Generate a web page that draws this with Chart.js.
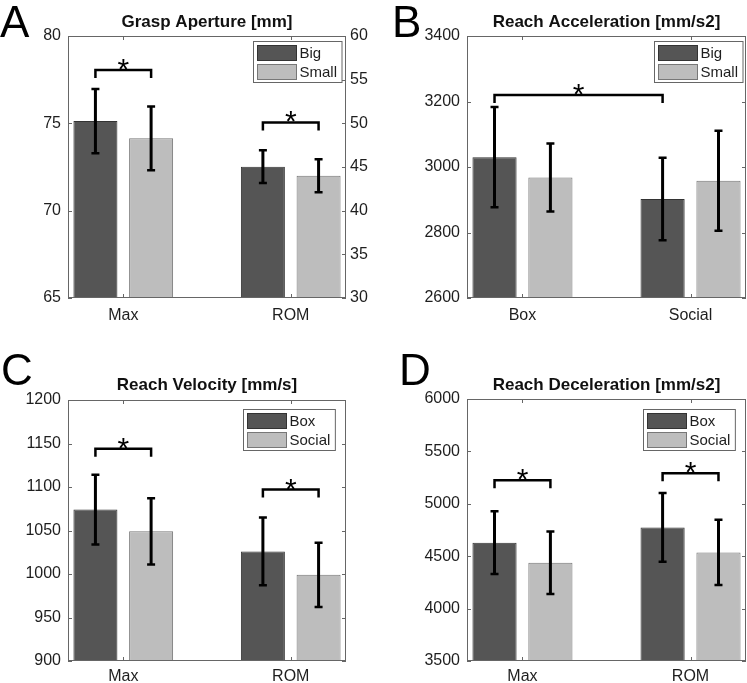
<!DOCTYPE html>
<html>
<head>
<meta charset="utf-8">
<script src="https://cdn.jsdelivr.net/npm/chart.js@4.4.1/dist/chart.umd.min.js"></script>
<style>
body{margin:0;background:#fff;}
#wrap{position:relative;width:747px;height:683px;overflow:hidden;}
canvas{position:absolute;}
</style>
</head>
<body>
<div id="wrap">
<canvas id="chartA" width="373" height="330" style="left:0;top:0"></canvas>
<canvas id="chartB" width="374" height="330" style="left:373px;top:0"></canvas>
<canvas id="chartC" width="373" height="353" style="left:0;top:330px"></canvas>
<canvas id="chartD" width="374" height="353" style="left:373px;top:330px"></canvas>
</div>
<script>
// A - grasp aperture, Max read on left axis, ROM on right axis
const graspCats = ["Max", "ROM"];
const graspBig = [75.13, 45.04];
const graspSmall = [74.14, 44.00];
const graspBigErr = [1.84, 1.87];
const graspSmallErr = [1.82, 1.88];

// B - reach acceleration
const accCats = ["Box", "Social"];
const accBig = [3030, 2902];
const accSmall = [2968, 2958];
const accBigErr = [153, 126];
const accSmallErr = [104, 153];

// C - reach velocity
const velCats = ["Max", "ROM"];
const velBox = [1074, 1026];
const velSocial = [1049, 999];
const velBoxErr = [40, 39];
const velSocialErr = [38, 37];

// D - reach deceleration
const decCats = ["Max", "ROM"];
const decBox = [4629, 4775];
const decSocial = [4437, 4536];
const decBoxErr = [300, 327];
const decSocialErr = [298, 311];

// axis ranges [min, max, step]
const graspLeftTicks = [65, 80, 5];
const graspRightTicks = [30, 60, 5];
const accTicks = [2600, 3400, 200];
const velTicks = [900, 1200, 50];
const decTicks = [3500, 6000, 500];

// significance brackets: [category, series] -> [category, series] at value y
const graspStars = [
  {from: [0, 0], to: [0, 1], y: 78.05, axis: "y"},
  {from: [1, 0], to: [1, 1], y: 50.1, axis: "y2"}
];
const accStars = [{from: [0, 0], to: [1, 0], y: 3220, axis: "y"}];
const velStars = [
  {from: [0, 0], to: [0, 1], y: 1144, axis: "y"},
  {from: [1, 0], to: [1, 1], y: 1097, axis: "y"}
];
const decStars = [
  {from: [0, 0], to: [0, 1], y: 5225, axis: "y"},
  {from: [1, 0], to: [1, 1], y: 5292, axis: "y"}
];

const FONT = '"Liberation Sans", Arial, Helvetica, sans-serif';
const FILLS = ["#555555", "#bdbdbd"];
const EDGES = ["#333333", "#777777"];
const FRAME = "#666666";

Chart.defaults.font.family = FONT;
Chart.defaults.color = "#1e1e1e";

const decoPlugin = {
  id: "deco",
  afterDatasetsDraw(chart, args, opts) {
    const ctx = chart.ctx;
    ctx.save();
    // error bars
    ctx.strokeStyle = "#000";
    chart.data.datasets.forEach((ds, i) => {
      const meta = chart.getDatasetMeta(i);
      const ys = chart.scales[ds.yAxisID];
      meta.data.forEach((el, j) => {
        const v = ds.data[j];
        if (v === null) return;
        const e = ds.errors[j];
        const top = ys.getPixelForValue(v + e);
        const bot = ys.getPixelForValue(v - e);
        ctx.lineWidth = 3;
        ctx.beginPath();
        ctx.moveTo(el.x, top);
        ctx.lineTo(el.x, bot);
        ctx.stroke();
        ctx.lineWidth = 2.5;
        ctx.beginPath();
        ctx.moveTo(el.x - 4, top);
        ctx.lineTo(el.x + 4, top);
        ctx.moveTo(el.x - 4, bot);
        ctx.lineTo(el.x + 4, bot);
        ctx.stroke();
      });
    });
    // brackets with stars
    const barX = (cat, series) => {
      let x = null;
      chart.data.datasets.forEach((ds, i) => {
        if (ds.series === series && ds.data[cat] !== null) {
          x = chart.getDatasetMeta(i).data[cat].x;
        }
      });
      return x;
    };
    (opts.stars || []).forEach(s => {
      const x1 = barX(s.from[0], s.from[1]);
      const x2 = barX(s.to[0], s.to[1]);
      const y = chart.scales[s.axis].getPixelForValue(s.y);
      ctx.lineWidth = 2.5;
      ctx.strokeStyle = "#000";
      ctx.beginPath();
      ctx.moveTo(x1, y + 8);
      ctx.lineTo(x1, y);
      ctx.lineTo(x2, y);
      ctx.lineTo(x2, y + 8);
      ctx.stroke();
      ctx.fillStyle = "#000";
      ctx.font = "30px " + FONT;
      ctx.textAlign = "center";
      ctx.textBaseline = "alphabetic";
      ctx.fillText("*", (x1 + x2) / 2, y + 9);
    });
    ctx.restore();
  },
  afterDraw(chart, args, opts) {
    const ctx = chart.ctx;
    const a = chart.chartArea;
    ctx.save();
    // box around the axes
    ctx.strokeStyle = FRAME;
    ctx.lineWidth = 1;
    ctx.strokeRect(Math.round(a.left) + 0.5, Math.round(a.top) + 0.5,
      Math.round(a.right - a.left) - 1, Math.round(a.bottom - a.top) - 1);
    // inward tick marks
    const tl = 4;
    ctx.beginPath();
    const left = chart.scales.y;
    const right = chart.scales.y2 || chart.scales.y;
    left.ticks.forEach(t => {
      const p = Math.round(left.getPixelForValue(t.value)) + 0.5;
      ctx.moveTo(a.left, p); ctx.lineTo(a.left + tl, p);
    });
    right.ticks.forEach(t => {
      const p = Math.round(right.getPixelForValue(t.value)) + 0.5;
      ctx.moveTo(a.right, p); ctx.lineTo(a.right - tl, p);
    });
    chart.scales.x.ticks.forEach(t => {
      const p = Math.round(chart.scales.x.getPixelForValue(t.value)) + 0.5;
      ctx.moveTo(p, a.bottom); ctx.lineTo(p, a.bottom - tl);
      ctx.moveTo(p, a.top); ctx.lineTo(p, a.top + tl);
    });
    ctx.stroke();

    // legend inside the axes
    const names = [];
    chart.data.datasets.forEach(ds => { names[ds.series] = ds.label; });
    ctx.font = "15px " + FONT;
    const tw = Math.max(...names.map(n => ctx.measureText(n).width));
    const w = 4 + 39 + 4 + tw + 4;
    const h = 41;
    const x0 = Math.round(a.right - opts.legend[0] - w) + 0.5;
    const y0 = Math.round(a.top + opts.legend[1]) + 0.5;
    ctx.fillStyle = "#fff";
    ctx.fillRect(x0, y0, w, h);
    ctx.strokeStyle = FRAME;
    ctx.strokeRect(x0, y0, w, h);
    names.forEach((n, k) => {
      const sy = y0 + 4 + k * 19;
      ctx.fillStyle = FILLS[k];
      ctx.fillRect(x0 + 4, sy, 39, 15);
      ctx.strokeStyle = EDGES[k];
      ctx.strokeRect(x0 + 4, sy, 39, 15);
      ctx.fillStyle = "#1e1e1e";
      ctx.textAlign = "left";
      ctx.textBaseline = "middle";
      ctx.fillText(n, x0 + 4 + 39 + 3, sy + 8);
    });

    // panel letter
    ctx.fillStyle = "#000";
    ctx.font = "44px " + FONT;
    ctx.textAlign = "left";
    ctx.textBaseline = "alphabetic";
    ctx.fillText(opts.letter[0], opts.letter[1], opts.letter[2]);
    ctx.restore();
  }
};

function makePanel(id, p) {
  const datasets = [];
  p.series.forEach((s, k) => {
    const axes = [...new Set(p.axisOf)];
    axes.forEach(ax => {
      datasets.push({
        label: s.name,
        series: k,
        stack: "s" + k,
        yAxisID: ax,
        base: p.scales[ax][0],
        data: s.values.map((v, i) => p.axisOf[i] === ax ? v : null),
        errors: s.errors.map((v, i) => p.axisOf[i] === ax ? v : null),
        backgroundColor: FILLS[k],
        borderColor: EDGES[k],
        borderWidth: 1,
        categoryPercentage: 0.665,
        barPercentage: 0.79
      });
    });
  });

  const tickFont = {family: FONT, size: 16};
  const scales = {
    x: {
      type: "linear",
      min: 0.67,
      max: 2.33,
      offset: false,
      afterBuildTicks: s => { s.ticks = p.cats.map((c, i) => ({value: i + 1})); },
      ticks: {callback: v => p.cats[v - 1], font: tickFont, padding: p.xPad, maxRotation: 0, autoSkip: false},
      grid: {display: false, drawTicks: false},
      border: {display: false},
      afterFit: s => { s.height = p.xHeight; }
    }
  };
  Object.keys(p.scales).forEach(ax => {
    const r = p.scales[ax];
    scales[ax] = {
      type: "linear",
      position: ax === "y" ? "left" : "right",
      min: r[0],
      max: r[1],
      ticks: {stepSize: r[2], font: tickFont, padding: ax === "y" ? 7 : 4, callback: v => String(v)},
      grid: {display: false, drawTicks: false},
      border: {display: false},
      afterFit: s => { s.width = ax === "y" ? p.leftW : p.rightW; }
    };
  });

  new Chart(document.getElementById(id), {
    type: "bar",
    data: {labels: p.cats.map((c, i) => i + 1), datasets},
    options: {
      responsive: false,
      animation: false,
      layout: {padding: {left: 0, right: p.padRight, top: 0, bottom: 0}},
      scales,
      plugins: {
        legend: {display: false},
        tooltip: {enabled: false},
        title: {
          display: true,
          text: p.title,
          fullSize: false,
          color: "#111",
          font: {family: FONT, size: 17, weight: "bold", lineHeight: 1.2},
          padding: {top: p.titleTop, bottom: p.titleBottom}
        },
        deco: {letter: p.letter, legend: p.legend, stars: p.stars}
      }
    },
    plugins: [decoPlugin]
  });
}

makePanel("chartA", {
  title: "Grasp Aperture [mm]",
  cats: graspCats,
  series: [
    {name: "Big", values: graspBig, errors: graspBigErr},
    {name: "Small", values: graspSmall, errors: graspSmallErr}
  ],
  axisOf: ["y", "y2"],
  scales: {y: graspLeftTicks, y2: graspRightTicks},
  stars: graspStars,
  leftW: 68, rightW: 27, padRight: 0,
  xHeight: 32, xPad: 8,
  titleTop: 12, titleBottom: 3.6,
  legend: [4, 5],
  letter: ["A", 0, 37]
});

makePanel("chartB", {
  title: "Reach Acceleration [mm/s2]",
  cats: accCats,
  series: [
    {name: "Big", values: accBig, errors: accBigErr},
    {name: "Small", values: accSmall, errors: accSmallErr}
  ],
  axisOf: ["y", "y"],
  scales: {y: accTicks},
  stars: accStars,
  leftW: 94, rightW: 0, padRight: 1,
  xHeight: 32, xPad: 8,
  titleTop: 12, titleBottom: 3.6,
  legend: [3, 5],
  letter: ["B", 19, 37]
});

makePanel("chartC", {
  title: "Reach Velocity [mm/s]",
  cats: velCats,
  series: [
    {name: "Box", values: velBox, errors: velBoxErr},
    {name: "Social", values: velSocial, errors: velSocialErr}
  ],
  axisOf: ["y", "y"],
  scales: {y: velTicks},
  stars: velStars,
  leftW: 68, rightW: 0, padRight: 27,
  xHeight: 22, xPad: 6,
  titleTop: 44.8, titleBottom: 4.8,
  legend: [11, 9],
  letter: ["C", 1, 55]
});

makePanel("chartD", {
  title: "Reach Deceleration [mm/s2]",
  cats: decCats,
  series: [
    {name: "Box", values: decBox, errors: decBoxErr},
    {name: "Social", values: decSocial, errors: decSocialErr}
  ],
  axisOf: ["y", "y"],
  scales: {y: decTicks},
  stars: decStars,
  leftW: 94, rightW: 0, padRight: 1,
  xHeight: 22, xPad: 6,
  titleTop: 44.8, titleBottom: 3.8,
  legend: [11, 10],
  letter: ["D", 26, 55]
});
</script>
</body>
</html>
